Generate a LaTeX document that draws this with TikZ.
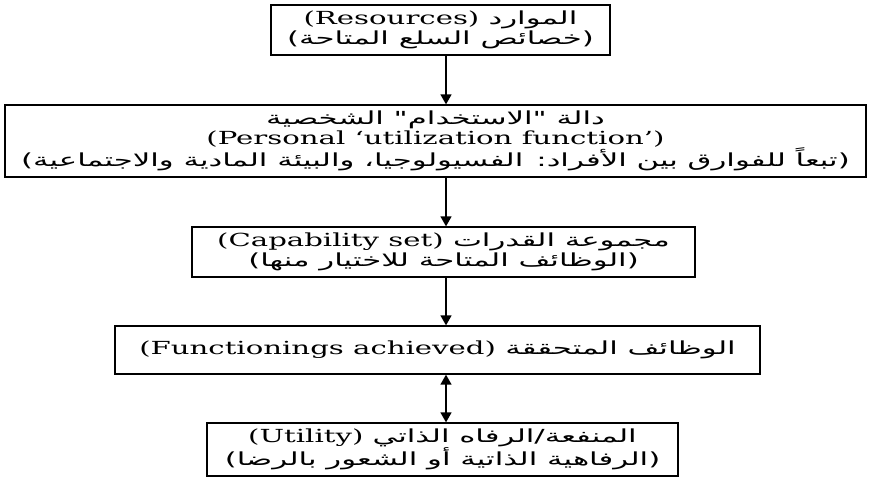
\documentclass[tikz,border=0pt]{standalone}
\usepackage{fontspec}
\setmainfont{DejaVu Serif}[FakeStretch=1.62]
\newfontfamily\ar{DejaVu Sans}[Script=Arabic,FakeStretch=1.71]
\newfontfamily\dv{DejaVu Sans}[FakeStretch=1.71]
\TeXXeTstate=1
\usetikzlibrary{arrows.meta}
\tikzset{
  box/.style={draw=black, line width=1.3pt, fill=white, inner sep=0pt, align=center,
    font=\fontsize{18}{20}\selectfont},
  arr/.style={line width=1.4pt, -{Triangle[length=10pt,width=11pt]}},
  darr/.style={line width=1.4pt, {Triangle[length=10pt,width=11pt]}-{Triangle[length=10pt,width=11pt]}}
}
\begin{document}
\begin{tikzpicture}[x=1pt,y=-1pt]
\useasboundingbox (0,0) rectangle (872,477);
\coordinate (ax) at (446,0);
\node[box, minimum width=339pt, minimum height=50pt] (b1) at (440.5,30)
  {(Resources) \beginR\ar الموارد\endR\\
   {\dv(}\beginR\ar خصائص السلع المتاحة\endR{\dv)}};
\node[box, minimum width=861pt, minimum height=72pt] (b2) at (435.5,141)
  {\beginR\ar دالة "الاستخدام" الشخصية\endR\\
   (Personal ‘utilization function’)\\
   {\dv(}\beginR\ar تبعاً للفوارق بين الأفراد: الفسيولوجيا، والبيئة المادية والاجتماعية\endR{\dv)}};
\node[box, minimum width=503pt, minimum height=50pt] (b3) at (443.5,252)
  {(Capability set) \beginR\ar مجموعة القدرات\endR\\
   {\dv(}\beginR\ar الوظائف المتاحة للاختيار منها\endR{\dv)}};
\node[box, minimum width=645pt, minimum height=48pt] (b4) at (437.5,350)
  {(Functionings achieved) \beginR\ar الوظائف المتحققة\endR};
\node[box, minimum width=471pt, minimum height=53pt] (b5) at (442.5,449.5)
  {(Utility) \beginR\ar المنفعة/الرفاه الذاتي\endR\\
   {\dv(}\beginR\ar الرفاهية الذاتية أو الشعور بالرضا\endR{\dv)}};
\draw[arr] (b1.south -| ax) -- (b2.north -| ax);
\draw[arr] (b2.south -| ax) -- (b3.north -| ax);
\draw[arr] (b3.south -| ax) -- (b4.north -| ax);
\draw[darr] (b4.south -| ax) -- (b5.north -| ax);
\end{tikzpicture}
\end{document}
